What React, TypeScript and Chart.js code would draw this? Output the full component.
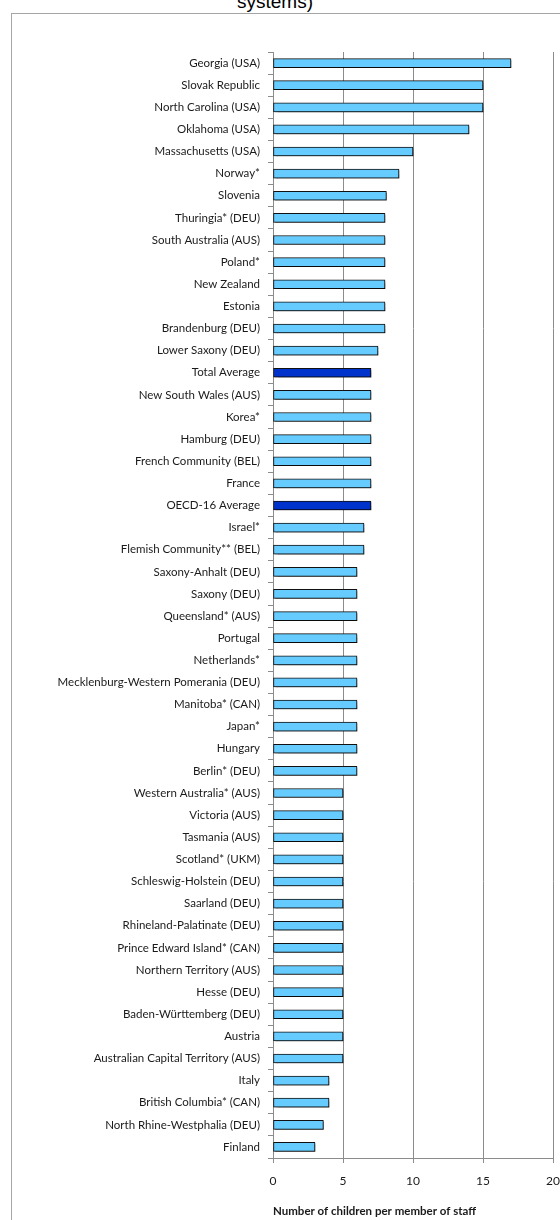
import React, { useEffect, useRef } from "react";
import { Chart, registerables } from "chart.js";

Chart.register(...registerables);

const categories = [
  "Georgia (USA)",
  "Slovak Republic",
  "North Carolina (USA)",
  "Oklahoma (USA)",
  "Massachusetts (USA)",
  "Norway*",
  "Slovenia",
  "Thuringia* (DEU)",
  "South Australia (AUS)",
  "Poland*",
  "New Zealand",
  "Estonia",
  "Brandenburg (DEU)",
  "Lower Saxony (DEU)",
  "Total Average",
  "New South Wales (AUS)",
  "Korea*",
  "Hamburg (DEU)",
  "French Community (BEL)",
  "France",
  "OECD-16 Average",
  "Israel*",
  "Flemish Community** (BEL)",
  "Saxony-Anhalt (DEU)",
  "Saxony (DEU)",
  "Queensland* (AUS)",
  "Portugal",
  "Netherlands*",
  "Mecklenburg-Western Pomerania (DEU)",
  "Manitoba* (CAN)",
  "Japan*",
  "Hungary",
  "Berlin* (DEU)",
  "Western Australia* (AUS)",
  "Victoria (AUS)",
  "Tasmania (AUS)",
  "Scotland* (UKM)",
  "Schleswig-Holstein (DEU)",
  "Saarland (DEU)",
  "Rhineland-Palatinate (DEU)",
  "Prince Edward Island* (CAN)",
  "Northern Territory (AUS)",
  "Hesse (DEU)",
  "Baden-Württemberg (DEU)",
  "Austria",
  "Australian Capital Territory (AUS)",
  "Italy",
  "British Columbia* (CAN)",
  "North Rhine-Westphalia (DEU)",
  "Finland",
];

const values = [
  17, 15, 15, 14, 10, 9, 8.1, 8, 8, 8, 8, 8, 8, 7.5, 7, 7, 7, 7, 7, 7, 7, 6.5,
  6.5, 6, 6, 6, 6, 6, 6, 6, 6, 6, 6, 5, 5, 5, 5, 5, 5, 5, 5, 5, 5, 5, 5, 5, 4,
  4, 3.6, 3,
];

const highlighted = ["Total Average", "OECD-16 Average"];
const xTicks = [0, 5, 10, 15, 20];
const titleTail = "systems)";
const xAxisTitle = "Number of children per member of staff";

const LABEL_FONT = "Lato, 'Open Sans', sans-serif";

export default function App() {
  const ref = useRef<HTMLCanvasElement>(null);

  useEffect(() => {
    const shadow = {
      id: "barShadow",
      beforeDatasetsDraw(chart: any) {
        const c = chart.ctx;
        c.save();
        c.shadowColor = "rgba(0,0,0,0.4)";
        c.shadowOffsetX = 1.5;
        c.shadowOffsetY = 1.5;
        c.shadowBlur = 1;
      },
      afterDatasetsDraw(chart: any) {
        chart.ctx.restore();
      },
    };

    const chart = new Chart(ref.current as HTMLCanvasElement, {
      type: "bar",
      data: {
        labels: categories,
        datasets: [
          {
            data: values,
            backgroundColor: categories.map((c) =>
              highlighted.includes(c) ? "#0033CC" : "#66CCFF"
            ),
            borderColor: "#111111",
            borderWidth: 1,
            borderSkipped: false,
            barThickness: 9,
          },
        ],
      },
      options: {
        indexAxis: "y",
        responsive: false,
        animation: false,
        layout: { padding: { top: 52, right: 67, bottom: 0, left: 0 } },
        plugins: {
          legend: { display: false },
          tooltip: { enabled: false },
          title: { display: false },
        },
        scales: {
          x: {
            min: 0,
            max: 20,
            afterBuildTicks(s: any) {
              s.ticks = xTicks.map((v) => ({ value: v }));
            },
            afterFit(s: any) {
              s.height = 62;
            },
            ticks: {
              font: { family: LABEL_FONT, size: 12 },
              color: "#1a1a1a",
              padding: 11,
            },
            grid: { color: "#8c8c8c", tickLength: 5, lineWidth: 1 },
            border: { color: "#8c8c8c" },
            title: {
              display: true,
              text: xAxisTitle,
              align: "start",
              font: { family: LABEL_FONT, size: 11.5, weight: "bold" },
              color: "#1a1a1a",
              padding: { top: 0, bottom: 2 },
            },
          },
          y: {
            afterFit(s: any) {
              s.width = 273;
            },
            grid: {
              display: true,
              drawOnChartArea: false,
              tickLength: 5,
              color: "#8c8c8c",
              offset: true,
            },
            border: { color: "#8c8c8c" },
            ticks: {
              autoSkip: false,
              padding: 8,
              font: { family: LABEL_FONT, size: 11.5 },
              color: "#1a1a1a",
            },
          },
        },
      } as any,
      plugins: [shadow],
    });
    return () => chart.destroy();
  }, []);

  return (
    <div
      style={{
        position: "fixed",
        left: 0,
        top: 0,
        width: 560,
        height: 1220,
        overflow: "hidden",
        background: "#fff",
      }}
    >
      <div
        style={{
          position: "absolute",
          left: 11,
          top: 13,
          width: 700,
          height: 1300,
          border: "1px solid #a6a6a6",
        }}
      />
      <div
        style={{
          position: "absolute",
          left: 0,
          top: -9,
          width: 550,
          textAlign: "center",
          fontFamily: "'Liberation Sans', Arial, sans-serif",
          fontSize: 19,
          lineHeight: "22px",
          color: "#000",
        }}
      >
        {titleTail}
      </div>
      <canvas
        ref={ref}
        width={620}
        height={1220}
        style={{ position: "absolute", left: 0, top: 0, width: 620, height: 1220 }}
      />
    </div>
  );
}
